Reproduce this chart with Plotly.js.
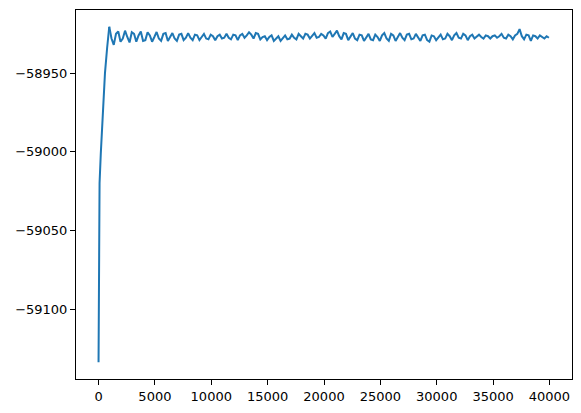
<!DOCTYPE html>
<html>
<head>
<meta charset="utf-8">
<script src="https://cdn.plot.ly/plotly-3.0.1.min.js"></script>
<style>html,body{margin:0;padding:0;background:#fff;}#chart{width:581px;height:413px;}</style>
</head>
<body>
<div id="chart"></div>
<script>
// Initial ramp (step, value)
const rampX = [0, 90, 200, 350, 570, 760, 950];
const rampY = [-59133.8, -59020, -59001, -58978, -58950, -58934, -58920.5];

// Steady part: starts at step 950, one value every 200 steps
const steadyStart = 950;
const steadyStep = 200;
const steadyY = [
  -58920.5, -58928, -58932, -58925, -58923.5, -58930, -58928, -58923, -58927, -58930.5,
  -58924, -58925, -58930, -58926, -58923.5, -58929.5, -58929, -58924, -58926, -58930,
  -58927, -58923.8, -58928, -58929.5, -58925, -58924.5, -58929.5, -58927, -58924.5, -58928,
  -58929.5, -58925.5, -58925, -58929, -58927.5, -58924.5, -58927.5, -58929, -58925.5, -58926,
  -58929, -58927, -58925, -58928, -58928.5, -58925.5, -58926.5, -58929, -58926.5, -58925.5,
  -58928, -58927.5, -58925, -58927.5, -58928.5, -58925.5, -58926, -58929, -58926, -58925,
  -58927.5, -58926, -58924, -58925.5, -58928, -58924.5, -58925, -58928.5, -58927, -58926.5,
  -58929, -58927, -58926, -58929.5, -58928, -58926.5, -58929.5, -58927.5, -58926, -58928.5,
  -58928, -58925.5, -58927.5, -58928.5, -58925, -58926.5, -58928, -58925, -58925.5, -58928,
  -58926, -58924.5, -58927.5, -58927, -58925, -58926, -58928, -58924.5, -58923.5, -58927,
  -58925, -58923, -58926.5, -58928.5, -58924.5, -58925, -58929, -58926.5, -58924.5, -58928,
  -58929, -58925.5, -58926, -58929.5, -58927, -58925, -58928.5, -58929, -58925.5, -58927,
  -58929.5, -58926, -58924.5, -58928, -58929.5, -58925, -58926, -58929.5, -58927, -58924.5,
  -58927.5, -58929, -58925.5, -58925, -58928.5, -58928, -58925, -58927, -58929.5, -58926,
  -58925.5, -58929, -58930, -58926, -58926.5, -58929, -58927, -58925.5, -58928.5, -58928,
  -58925, -58926.5, -58929, -58926, -58924.5, -58927.5, -58928, -58925, -58926, -58929,
  -58926.5, -58925.5, -58928, -58927, -58925.5, -58927, -58928, -58926, -58926.5, -58928,
  -58926.5, -58926, -58927.5, -58926.5, -58925, -58927.5, -58928, -58925.5, -58926.5, -58928.5,
  -58926, -58925, -58922, -58926.5, -58928.5, -58925.5, -58926, -58929.5, -58926, -58926.5,
  -58928, -58926, -58927, -58928, -58926.5, -58927.5
];

const xTickVals = [0, 5000, 10000, 15000, 20000, 25000, 30000, 35000, 40000];
const xTickText = ['0', '5000', '10000', '15000', '20000', '25000', '30000', '35000', '40000'];
const yTickVals = [-59100, -59050, -59000, -58950];
const yTickText = ['\u221259100', '\u221259050', '\u221259000', '\u221258950'];

const lineStyle = {color: '#1f77b4', width: 2};
const traces = [
  {x: rampX, y: rampY, type: 'scatter', mode: 'lines', line: lineStyle, hoverinfo: 'skip'},
  {y: steadyY, x0: steadyStart, dx: steadyStep, type: 'scatter', mode: 'lines', line: lineStyle, hoverinfo: 'skip'}
];

const axisCommon = {
  showline: true, linecolor: '#000', linewidth: 1, mirror: true,
  ticks: 'outside', ticklen: 5, tickwidth: 1, tickcolor: '#000',
  showgrid: false, zeroline: false,
  tickfont: {family: 'DejaVu Sans', size: 13, color: '#000'},
  tickmode: 'array'
};

const layout = {
  width: 581, height: 413,
  margin: {l: 76, r: 9, t: 10, b: 34},
  paper_bgcolor: '#fff', plot_bgcolor: '#fff',
  showlegend: false,
  xaxis: Object.assign({}, axisCommon, {range: [-2000, 42000], tickvals: xTickVals, ticktext: xTickText}),
  yaxis: Object.assign({}, axisCommon, {range: [-59144.47, -58909.84], tickvals: yTickVals, ticktext: yTickText})
};

Plotly.newPlot('chart', traces, layout, {staticPlot: true, displayModeBar: false});
</script>
</body>
</html>
